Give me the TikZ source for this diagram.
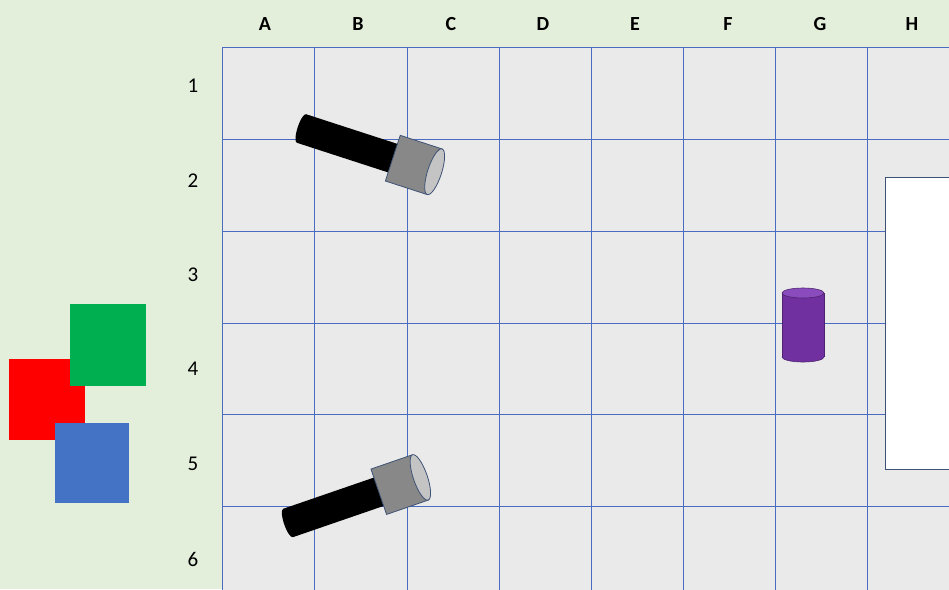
\documentclass[tikz,border=0pt]{standalone}
\usepackage{fontspec}
\setmainfont{Carlito}
\definecolor{bggreen}{HTML}{E3EFDA}
\definecolor{cellgray}{HTML}{EAEAEA}
\definecolor{gridblue}{HTML}{4A6BBF}
\definecolor{edgeblue}{HTML}{3E5275}
\definecolor{headgray}{HTML}{888888}
\definecolor{lensgray}{HTML}{C4C4C4}
\definecolor{cylpurple}{HTML}{7030A0}
\definecolor{cyltop}{HTML}{8A4CBC}
\definecolor{sqred}{HTML}{FF0000}
\definecolor{sqgreen}{HTML}{00B050}
\definecolor{sqblue}{HTML}{4472C4}
\tikzset{
    collabel/.style={font=\fontsize{20}{22}\selectfont\bfseries},
    rowlabel/.style={font=\fontsize{21}{23}\selectfont},
    gridline/.style={gridblue,line width=1pt},
    outline/.style={draw=edgeblue,line width=0.8pt}
}
\begin{document}
\begin{tikzpicture}[x=1pt,y=-1pt]
    \useasboundingbox (0,0) rectangle (949,589);
    \clip (0,0) rectangle (949,589);
    \fill[bggreen] (0,0) rectangle (949,589);
    % Grid of cells
    \fill[cellgray] (222,47) rectangle (960,600);
    \foreach \x in {222,314,407,499,591,683,775,867}
        \draw[gridline] (\x,47) -- (\x,600);
    \foreach \y in {47,139,231,323,414,506}
        \draw[gridline] (222,\y) -- (960,\y);
    % Column and row headings
    \foreach \c/\x in {A/265,B/358,C/451,D/543,E/635,F/728,G/820,H/912}
        \node[collabel] (col\c) at (\x,24) {\c};
    \foreach \r/\y in {1/86,2/181,3/275,4/369,5/464,6/559}
        \node[rowlabel] (row\r) at (193,\y) {\r};
    % Colour squares
    \fill[sqred] (9,359) rectangle (85,440);
    \fill[sqgreen] (70,304) rectangle (146,386);
    \fill[sqblue] (55,423) rectangle (129,503);
    % Flashlights
    \foreach \px/\py/\a in {301.5/128.5/-18, 288/523/19} {
        \begin{scope}[shift={(\px,\py)},rotate=\a]
            \fill[black] (0,0) ellipse [x radius=4pt, y radius=15pt];
            \fill[black] (0,-15) rectangle (97,15);
            \filldraw[headgray,outline] (96,-24) rectangle (140,24);
            \filldraw[lensgray,outline] (140,0) ellipse [x radius=7pt, y radius=24pt];
        \end{scope}
    }
    % Purple cylinder
    \filldraw[cylpurple,draw=cylpurple!70!black,line width=0.6pt] (803,357) ellipse [x radius=21pt, y radius=5pt];
    \fill[cylpurple] (782,293) rectangle (824,357);
    \draw[cylpurple!70!black,line width=0.6pt] (782,293) -- (782,357) (824,293) -- (824,357);
    \filldraw[cyltop,draw=cylpurple!70!black,line width=0.6pt] (803,293) ellipse [x radius=21pt, y radius=5pt];
    % White panel
    \filldraw[white,draw=edgeblue,line width=1pt] (885,177) rectangle (960,469);
\end{tikzpicture}
\end{document}
